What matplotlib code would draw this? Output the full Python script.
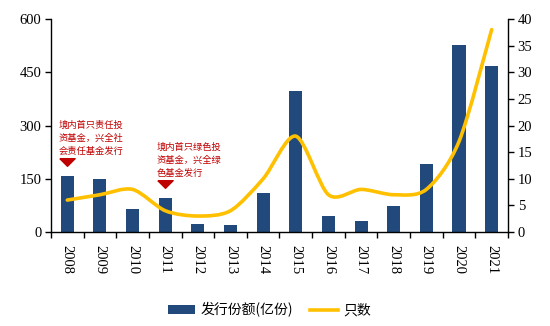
import numpy as np
import matplotlib.pyplot as plt
from matplotlib.path import Path
from matplotlib.patches import PathPatch
from matplotlib.lines import Line2D
from matplotlib.patches import Patch

years = ['2008', '2009', '2010', '2011', '2012', '2013', '2014',
         '2015', '2016', '2017', '2018', '2019', '2020', '2021']
shares = [158, 149, 65, 96, 23, 20, 110, 397, 45, 31, 73, 192, 527, 468]
counts = [6, 7, 8, 4, 3, 4, 10, 18, 7, 8, 7, 8, 17, 38]

notes = [
    (0, '境内首只责任投\n资基金，兴全社\n会责任基金发行'),
    (3, '境内首只绿色投\n资基金，兴全绿\n色基金发行'),
]

bar_color = '#21497B'
line_color = '#FFC000'
note_color = '#C00000'
serif = ['Liberation Serif', 'Noto Sans CJK SC']
cjk = ['Noto Sans CJK SC', 'DejaVu Sans']


def smooth_path(xs, ys):
    # excel style smoothed line: catmull-rom segments as cubic beziers
    pts = np.column_stack([xs, ys]).astype(float)
    n = len(pts)
    verts = [pts[0]]
    codes = [Path.MOVETO]
    for i in range(n - 1):
        p0 = pts[max(i - 1, 0)]
        p1 = pts[i]
        p2 = pts[i + 1]
        p3 = pts[min(i + 2, n - 1)]
        c1 = p1 + (p2 - p0) / 7.0
        c2 = p2 - (p3 - p1) / 7.0
        verts += [c1, c2, p2]
        codes += [Path.CURVE4] * 3
    return Path(verts, codes)


# flat downward triangle like the excel callout
flat_tri = Path([(-1, 0.5), (1, 0.5), (0, -0.5), (-1, 0.5)])

fig = plt.figure(figsize=(5.5, 3.26), dpi=100)
ax = fig.add_axes([0.0927, 0.2883, 0.8309, 0.6534])
ax2 = ax.twinx()

x = np.arange(len(years))
ax.bar(x, shares, width=0.4, color=bar_color, zorder=2)

line = PathPatch(smooth_path(x, counts), facecolor='none', edgecolor=line_color,
                 lw=2.6, capstyle='round', joinstyle='round', zorder=3)
ax2.add_patch(line)

ax.set_xlim(-0.5, len(years) - 0.5)
ax.set_ylim(0, 600)
ax2.set_ylim(0, 40)
ax.set_yticks([0, 150, 300, 450, 600])
ax2.set_yticks(range(0, 41, 5))

ax.set_xticks(x)
ax.set_xticklabels(years, rotation=270, family=serif, fontsize=10.5)
ax.set_xticks(np.arange(-0.5, len(years), 1), minor=True)
ax.tick_params(axis='x', which='major', length=0, pad=9)
ax.tick_params(axis='x', which='minor', length=4, width=1, direction='out')
ax.tick_params(axis='y', length=4, width=1, direction='out', pad=3)
ax2.tick_params(axis='y', length=4, width=1, direction='out', pad=3)

for lab in ax.get_yticklabels() + ax2.get_yticklabels():
    lab.set_family(serif)
    lab.set_fontsize(10.5)

for a in (ax, ax2):
    a.spines['top'].set_visible(False)
    for s in ('left', 'right', 'bottom'):
        a.spines[s].set_linewidth(1)
ax.spines['right'].set_visible(False)
ax2.spines['left'].set_visible(False)
ax2.spines['bottom'].set_visible(False)

for idx, txt in notes:
    top = shares[idx]
    ax.plot(idx, top + 38, marker=flat_tri, markersize=11, color=note_color,
            linestyle='none', zorder=4)
    ax.text(idx - 0.27, top + 56, txt, color=note_color, fontsize=6.7,
            family=cjk, ha='left', va='bottom', linespacing=1.55)

handles = [Patch(facecolor=bar_color), Line2D([0], [0], color=line_color, lw=2.6)]
fig.legend(handles, ['发行份额(亿份)', '只数'], loc='center', bbox_to_anchor=(0.49, 0.05),
           ncol=2, frameon=False, prop={'family': cjk, 'size': 10},
           handlelength=2.0, handleheight=0.6, handletextpad=0.4, columnspacing=1.2)

fig.savefig('out.png', dpi=100)
